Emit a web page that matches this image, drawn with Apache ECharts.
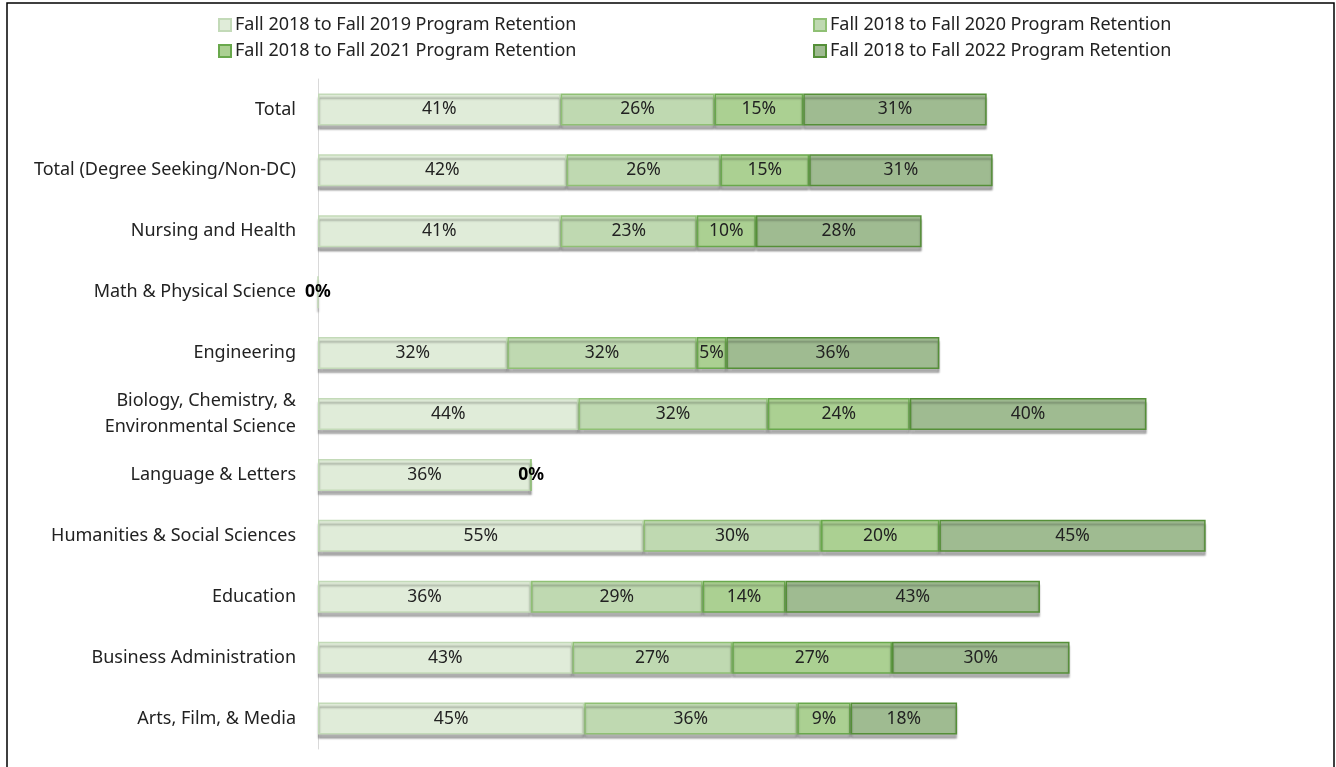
<!DOCTYPE html>
<html>
<head>
<meta charset="utf-8">
<script src="https://cdn.jsdelivr.net/npm/echarts@6/dist/echarts.min.js"></script>
<style>
  html, body { margin: 0; padding: 0; background: #fff; }
  #main { width: 1336px; height: 767px; }
</style>
</head>
<body>
<div id="main"></div>
<script>
// categories, top to bottom
const categories = [
  'Total',
  'Total (Degree Seeking/Non-DC)',
  'Nursing and Health',
  'Math & Physical Science',
  'Engineering',
  'Biology, Chemistry, &\nEnvironmental Science',
  'Language & Letters',
  'Humanities & Social Sciences',
  'Education',
  'Business Administration',
  'Arts, Film, & Media'
]
const seriesNames = [
  'Fall 2018 to Fall 2019 Program Retention',
  'Fall 2018 to Fall 2020 Program Retention',
  'Fall 2018 to Fall 2021 Program Retention',
  'Fall 2018 to Fall 2022 Program Retention'
]
// null = no value shown
const fall2019 = [41, 42, 41, 0, 32, 44, 36, 55, 36, 43, 45]
const fall2020 = [26, 26, 23, null, 32, 32, 0, 30, 29, 27, 36]
const fall2021 = [15, 15, 10, null, 5, 24, null, 20, 14, 27, 9]
const fall2022 = [31, 31, 28, null, 36, 40, null, 45, 43, 30, 18]

const fills = ['#e0ecd9', '#bfd9b1', '#abd092', '#9fbb91']
const borders = ['#c3dab8', '#8fc074', '#69a84c', '#558f38']
const font = '"Noto Sans", "Open Sans", sans-serif'

const chart = echarts.init(document.getElementById('main'), null, { renderer: 'canvas' })

// zero values get a bold label, like the source
const toData = arr => arr.map(v => {
  if (v === 0) return { value: 0, label: { fontWeight: 'bold', color: '#000' } }
  return v
})

const series = [fall2019, fall2020, fall2021, fall2022].map((arr, i) => ({
  name: seriesNames[i],
  type: 'bar',
  stack: 'ret',
  barWidth: 32,
  data: toData(arr),
  itemStyle: {
    color: fills[i],
    borderColor: borders[i],
    borderWidth: 1.5,
    shadowColor: 'rgba(0,0,0,0.3)',
    shadowBlur: 2,
    shadowOffsetY: 4
  },
  label: {
    show: true,
    position: 'inside',
    fontFamily: font,
    fontSize: 17.5,
    color: '#222',
    formatter: p => p.value == null ? '' : p.value + '%'
  },
  emphasis: { disabled: true }
}))

const legendPos = [[218, 16], [813, 16], [218, 42], [813, 42]]
const legends = seriesNames.map((n, i) => ({
  data: [n],
  left: legendPos[i][0],
  top: legendPos[i][1],
  padding: 0,
  itemWidth: 12,
  itemHeight: 12,
  itemGap: 4,
  icon: 'rect',
  textStyle: { fontFamily: font, fontSize: 18, color: '#222', padding: [0, 0, 0, -1] }
}))

chart.setOption({
  animation: false,
  backgroundColor: '#fff',
  legend: legends,
  grid: { left: 318, right: 12, top: 79, bottom: 18, containLabel: false },
  xAxis: {
    type: 'value',
    min: 0,
    max: 170,
    show: false
  },
  yAxis: {
    type: 'category',
    inverse: true,
    data: categories,
    axisLine: { show: true, lineStyle: { color: '#d9d9d9', width: 1 } },
    axisTick: { show: false },
    axisLabel: {
      margin: 22,
      fontFamily: font,
      fontSize: 18,
      color: '#222',
      lineHeight: 26,
      align: 'right'
    }
  },
  graphic: [{
    type: 'rect',
    shape: { x: 7, y: 3, width: 1327, height: 800 },
    style: { fill: 'none', stroke: '#000', lineWidth: 1.5 },
    silent: true
  }],
  series
})
</script>
</body>
</html>
